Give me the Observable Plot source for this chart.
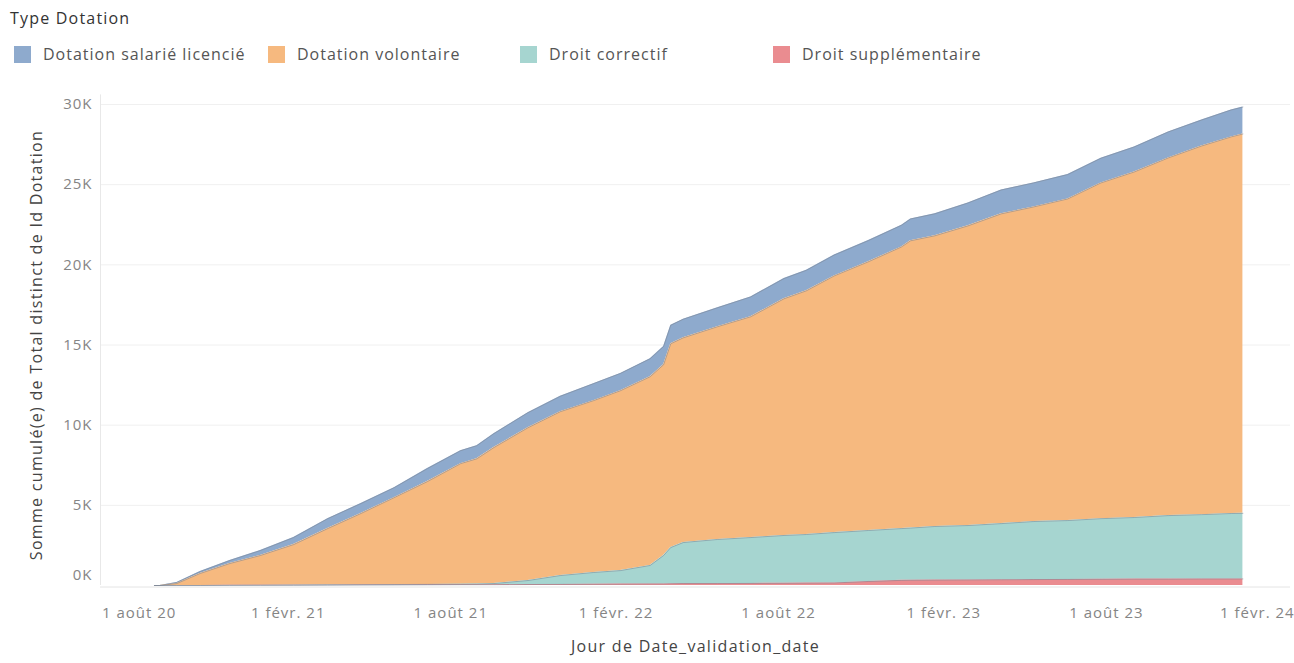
<!DOCTYPE html>
<html>
<head>
<meta charset="utf-8">
<script src="https://cdn.jsdelivr.net/npm/d3@7"></script>
<script src="https://cdn.jsdelivr.net/npm/@observablehq/plot@0.6"></script>
<style>
  html, body { margin:0; padding:0; background:#fff; }
  body { width:1294px; height:663px; position:relative; overflow:hidden; font-family:"Open Sans", sans-serif; }
  #legendTitle { position:absolute; left:10px; top:7px; font-size:16px; letter-spacing:1.2px; color:#333; }
  .item { position:absolute; top:44px; height:20px; font-size:16px; letter-spacing:1px; color:#555; white-space:nowrap; }
  .sw { position:absolute; left:0; top:2px; width:17px; height:17px; }
  .lbl { position:absolute; left:29px; top:-1px; }
  #chart { position:absolute; left:0; top:70px; }
  #chart svg text { letter-spacing: 1px; }
  #chart svg g[aria-label="x-axis label"] text, #chart svg g[aria-label="y-axis label"] text { letter-spacing: 1.3px; }
</style>
</head>
<body>
<div id="legendTitle">Type Dotation</div>
<div id="legend"></div>
<div id="chart"></div>
<script>
// ---- data (cumulative counts per type) ----
const dates = ["2020-09-05","2020-09-11","2020-09-30","2020-10-26","2020-11-28","2021-01-01","2021-02-07","2021-03-17","2021-04-23","2021-05-30","2021-07-06","2021-08-12","2021-08-30","2021-09-18","2021-10-26","2021-12-01","2022-01-07","2022-02-06","2022-03-11","2022-03-26","2022-04-03","2022-04-17","2022-05-25","2022-07-01","2022-08-07","2022-09-01","2022-10-02","2022-11-09","2022-12-16","2022-12-26","2023-01-22","2023-02-28","2023-04-06","2023-05-12","2023-06-19","2023-07-26","2023-09-01","2023-10-09","2023-11-15","2023-12-18","2023-12-31"];
const seriesNames = ["Dotation salarié licencié","Dotation volontaire","Droit correctif","Droit supplémentaire"];
const seriesColors = ["#8eaacd","#f6b97f","#a6d5d0","#ea8c90"];
const stackOrder = ["Droit supplémentaire","Droit correctif","Dotation volontaire","Dotation salarié licencié"];
const salarieLicencie = [0,0,70,120,190,310,440,620,620,620,810,810,820,870,940,960,1060,1080,1120,1140,1150,1160,1180,1240,1260,1280,1300,1320,1350,1360,1370,1430,1490,1500,1520,1540,1560,1620,1620,1680,1680];
const volontaire = [0,0,120,750,1360,1850,2520,3510,4440,5420,6410,7520,7810,8480,9530,10220,10720,11220,11770,11900,12710,12770,13270,13770,14760,15200,16010,16760,17570,17920,18130,18690,19320,19620,20060,20940,21550,22310,22990,23490,23660];
const correctif = [0,0,0,0,0,10,20,20,20,30,30,30,40,70,250,550,730,840,1150,1770,2260,2560,2750,2860,2980,3030,3140,3180,3230,3250,3340,3390,3500,3620,3670,3780,3840,3960,4010,4080,4090];
const supplementaire = [0,0,0,0,10,10,10,20,30,30,40,50,50,50,60,70,80,90,100,100,110,120,120,130,140,150,160,250,320,330,340,350,360,370,380,390,400,400,410,410,410];
const xTickDates = ["2020-08-01","2021-02-01","2021-08-01","2022-02-01","2022-08-01","2023-02-01","2023-08-01","2024-02-01"];
const xTickLabels = ["1 août 20","1 févr. 21","1 août 21","1 févr. 22","1 août 22","1 févr. 23","1 août 23","1 févr. 24"];
const yTicks = [0,5000,10000,15000,20000,25000,30000];
const yTickLabels = ["0K","5K","10K","15K","20K","25K","30K"];
const xLabel = "Jour de Date_validation_date";
const yLabel = "Somme cumulé(e) de Total distinct de Id Dotation";

// ---- long table ----
const valuesBySeries = {
  "Dotation salarié licencié": salarieLicencie,
  "Dotation volontaire": volontaire,
  "Droit correctif": correctif,
  "Droit supplémentaire": supplementaire
};
const parse = d3.utcParse("%Y-%m-%d");
const long = [];
for (const s of seriesNames) {
  valuesBySeries[s].forEach((v, i) => long.push({date: parse(dates[i]), series: s, value: v}));
}
const tickDates = xTickDates.map(parse);
const tickTimes = tickDates.map(d => +d);
const xLab = d => xTickLabels[tickTimes.indexOf(+d)];

// ---- legend ----
const legendLeft = [14, 268, 520, 773];
const legend = document.getElementById("legend");
seriesNames.forEach((s, i) => {
  const it = document.createElement("div");
  it.className = "item";
  it.style.left = legendLeft[i] + "px";
  it.innerHTML = `<span class="sw" style="background:${seriesColors[i]}"></span><span class="lbl">${s}</span>`;
  legend.appendChild(it);
});

const xDomain = [parse("2020-07-07"), parse("2024-02-22")];
const n = tickDates.length;

const chart = Plot.plot({
  width: 1294,
  height: 593,
  marginLeft: 100,
  marginRight: 4,
  marginTop: 34,
  marginBottom: 78,
  style: {fontFamily: "'Open Sans', sans-serif", fontSize: "15px", color: "#858585", background: "transparent"},
  x: {type: "utc", domain: xDomain},
  y: {domain: [0, 30000]},
  color: {domain: seriesNames, range: seriesColors},
  marks: [
    Plot.gridY(yTicks.slice(1), {stroke: "#f0f0f0", strokeOpacity: 1}),
    Plot.ruleX([xDomain[0]], {stroke: "#e8e8e8", y1: 0, y2: 30600}),
    Plot.areaY(long, {x: "date", y: "value", z: "series", fill: "series", order: stackOrder, curve: "linear"}),
    Plot.lineY(long, Plot.stackY2({x: "date", y: "value", z: "series", order: stackOrder, stroke: "#7d8796", strokeOpacity: 0.55, strokeWidth: 1})),
    Plot.ruleY([0], {stroke: "#e4e4e4", dy: 1.5}),
    Plot.axisY(yTicks.slice(1), {tickSize: 0, tickPadding: 8, tickFormat: d => yTickLabels[yTicks.indexOf(d)], fontSize: 15, label: yLabel, labelAnchor: "center", labelArrow: "none", labelOffset: 70}),
    Plot.axisY([0], {tickSize: 0, tickPadding: 8, tickFormat: d => yTickLabels[0], fontSize: 15, dy: -10, label: null}),
    Plot.axisX(tickDates.slice(1, n - 1), {tickSize: 0, tickPadding: 22, tickFormat: xLab, fontSize: 15, label: xLabel, labelAnchor: "center", labelArrow: "none", labelOffset: 66}),
    Plot.axisX([tickDates[0]], {tickSize: 0, tickPadding: 22, tickFormat: xLab, fontSize: 15, textAnchor: "start", dx: -21, label: null}),
    Plot.axisX([tickDates[n - 1]], {tickSize: 0, tickPadding: 22, tickFormat: xLab, fontSize: 15, textAnchor: "end", dx: 23, label: null})
  ]
});
document.getElementById("chart").appendChild(chart);

// axis titles: darker and slightly larger
chart.querySelectorAll('g[aria-label="x-axis label"] text, g[aria-label="y-axis label"] text').forEach(t => {
  t.setAttribute("fill", "#444");
  t.setAttribute("font-size", "16");
});
</script>
</body>
</html>
